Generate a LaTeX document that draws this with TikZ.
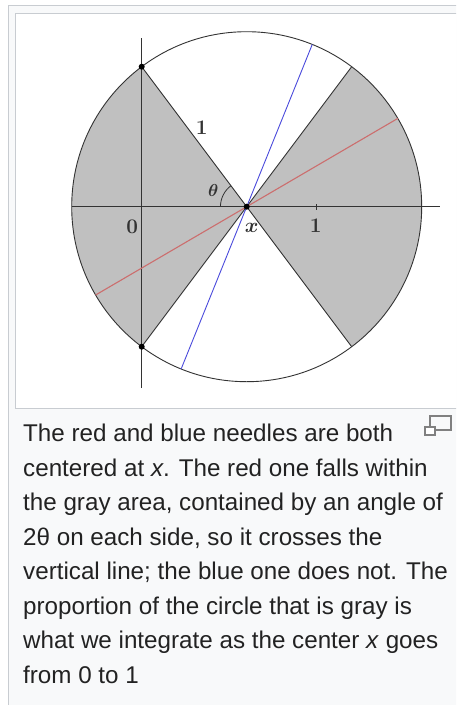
\documentclass[tikz,border=0pt]{standalone}
\usepackage{fontspec}
\newfontfamily\capfont{Liberation Sans}
\definecolor{framegray}{HTML}{C8CCD1}
\definecolor{pagegray}{HTML}{F8F9FA}
\definecolor{sectorgray}{HTML}{C0C0C0}
\definecolor{inkgray}{HTML}{333333}
\definecolor{needlered}{HTML}{CC6E6E}
\definecolor{needleblue}{HTML}{4A4ADC}
\definecolor{captext}{HTML}{222222}

\begin{document}
\begin{tikzpicture}[x=1pt, y=-1pt,
  axis/.style={draw=inkgray, line width=0.9pt},
  edge/.style={draw=inkgray, line width=0.9pt},
  dot/.style={circle, fill=black, inner sep=0pt, minimum size=6pt},
  lbl/.style={font=\fontsize{20}{20}\selectfont\boldmath, text=inkgray, inner sep=0pt},
  capline/.style={font=\capfont\fontsize{24.2}{30}\selectfont, text=captext, anchor=base west, inner sep=0pt}]
\useasboundingbox (0,0) rectangle (456,705);
\clip (0,0) rectangle (456,705);
% Frames
\draw[framegray, fill=pagegray] (8,5) rectangle (480,730);
\draw[framegray, fill=white] (15,13) rectangle (480,408);

% Diagram
\begin{scope}[shift={(141.7,206.7)}, x=175pt, y=175pt]
\coordinate (O) at (0,0);
\coordinate (X) at (0.6,0);
% Gray sectors
\fill[sectorgray] (X) -- ++(126.87:1) arc[start angle=126.87, end angle=233.13, radius=1] -- cycle;
\fill[sectorgray] (X) -- ++(-53.13:1) arc[start angle=-53.13, end angle=53.13, radius=1] -- cycle;
\draw[edge] (X) circle[radius=1];
\draw[edge] (X) ++(126.87:1) -- ++(-53.13:2);
\draw[edge] (X) ++(53.13:1) -- ++(233.13:2);
% Axes
\draw[axis] (-0.4,0) -- (1.705,0);
\draw[axis] (0,-1.036) -- (0,0.964);
\draw[axis] (1,-0.018) -- (1,0.018);
% Needles
\draw[needlered, line width=1.1pt] (X) ++(210.3:1) -- ++(30.3:2);
\draw[needleblue, line width=0.9pt] (X) ++(248:1) -- ++(68:2);
% Angle
\draw[inkgray, line width=0.8pt] (X) ++(126.87:0.15) arc[start angle=126.87, end angle=180, radius=0.15];
% Points
\node[dot] (top) at (0,0.8) {};
\node[dot] (bot) at (0,-0.8) {};
\node[dot] (mid) at (X) {};
% Labels
\node[lbl] (one) at (0.343,0.448) {$\mathbf{1}$};
\node[lbl, font=\fontsize{16}{16}\selectfont\boldmath] (theta) at (0.409,0.095) {$\theta$};
\node[lbl] (zero) at (-0.054,-0.114) {$\mathbf{0}$};
\node[lbl, font=\fontsize{22}{22}\selectfont\boldmath] (xlab) at (0.629,-0.123) {$x$};
\node[lbl] (onex) at (0.994,-0.11) {$\mathbf{1}$};
\end{scope}

% Caption
\foreach \txt [count=\i] in {
  {The red and blue needles are both},
  {centered at \textit{x}. The red one falls within},
  {the gray area, contained by an angle of},
  {2θ on each side, so it crosses the},
  {vertical line; the blue one does not. The},
  {proportion of the circle that is gray is},
  {what we integrate as the center \textit{x} goes},
  {from 0 to 1}} {
  \node[capline] (cap\i) at (23,441.7+34.5*\i-34.5) {\txt};
}
% Enlarge icon
\draw[gray, line width=1.2pt] (430,416) rectangle (451,430);
\draw[gray, line width=1.2pt, fill=white] (425,427) rectangle (435,435);
\end{tikzpicture}
\end{document}
